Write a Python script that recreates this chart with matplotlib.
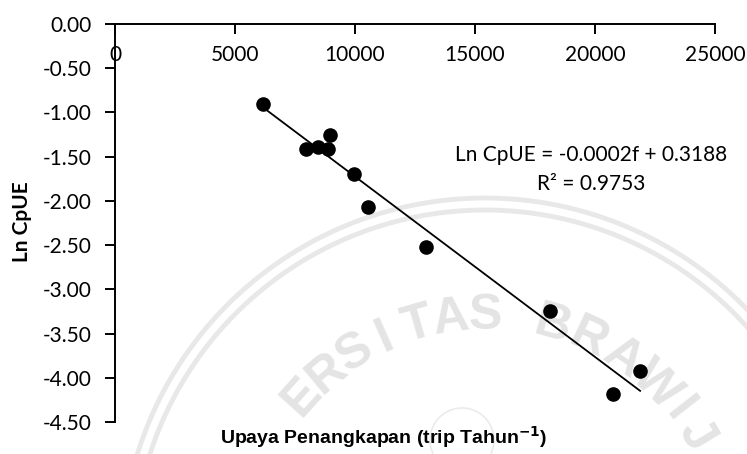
import numpy as np
import matplotlib.pyplot as plt

# fishing effort (trip/year) vs ln CpUE
effort = [6180, 7950, 8470, 8890, 8960, 9960, 10540, 12960, 18140, 21880, 20760]
ln_cpue = [-0.905, -1.414, -1.388, -1.414, -1.256, -1.697, -2.067, -2.519, -3.247, -3.92, -4.18]

x_ticks = [0, 5000, 10000, 15000, 20000, 25000]
y_ticks = [0.0, -0.5, -1.0, -1.5, -2.0, -2.5, -3.0, -3.5, -4.0, -4.5]

eq_text = "Ln CpUE = -0.0002f + 0.3188"
r2_text = "R² = 0.9753"

W, H = 747, 454
fig = plt.figure(figsize=(W / 100, H / 100), dpi=100)
ax = fig.add_axes([115 / W, 1 - 422 / H, 600 / W, 398 / H])
ax.set_zorder(2)
ax.patch.set_alpha(0)

# faint watermark behind the chart (pixel coords from the top-left corner)
wm_chars = list("ERSITASBRAWIJ")
wm_angles = [138, 130, 122, 114, 106, 98, 90, 74, 65, 56, 46, 38, 31]
cx, cy = 485, 562
for ch, a in zip(wm_chars, wm_angles):
    px = cx + 246 * np.cos(np.radians(a))
    py = cy - 246 * np.sin(np.radians(a))
    fig.text(px / W, 1 - py / H, ch, fontsize=36, color="#e4e4e4",
             family="Liberation Sans", fontweight="bold",
             ha="center", va="center", rotation=a - 90, zorder=-5)
t = np.linspace(0, 2 * np.pi, 500)
for r in (352, 364):
    xs = (cx + r * np.cos(t)) / W
    ys = 1 - (cy - r * np.sin(t)) / H
    fig.add_artist(plt.Line2D(xs, ys, color="#e8e8e8", lw=3.5, zorder=-5))
xs = (462 + 32 * np.cos(t)) / W
ys = 1 - (440 + 32 * np.sin(t)) / H
fig.add_artist(plt.Line2D(xs, ys, color="#ebebeb", lw=1.2, zorder=-5))

ex = np.array(effort, dtype=float)
ey = np.array(ln_cpue)
slope, icpt = np.polyfit(ex, ey, 1)
xl = np.array([ex.min(), ex.max()])
ax.plot(xl, slope * xl + icpt, color="black", lw=1.3, zorder=2)
ax.scatter(ex, ey, s=90, color="black", zorder=3)

ax.set_xlim(0, 25000)
ax.set_ylim(-4.5, 0)
ax.set_xticks(x_ticks)
ax.set_yticks(y_ticks)
ax.set_yticklabels([f"{v:.2f}" if v != 0 else "0.00" for v in y_ticks])

for s in ("right", "top"):
    ax.spines[s].set_visible(False)
ax.spines["bottom"].set_position(("data", 0))
ax.spines["left"].set_linewidth(1.4)
ax.spines["bottom"].set_linewidth(1.4)
ax.tick_params(axis="both", direction="out", length=7, width=1.4,
               labelsize=15, colors="black")
ax.tick_params(axis="x", pad=8)
ax.tick_params(axis="y", pad=10)
for lbl in ax.get_xticklabels() + ax.get_yticklabels():
    lbl.set_family("Lato")

ax.text(591 / W, 1 - 155 / H, eq_text, transform=fig.transFigure,
        ha="center", va="center", fontsize=15, family="Lato")
ax.text(591 / W, 1 - 184 / H, r2_text, transform=fig.transFigure,
        ha="center", va="center", fontsize=15, family="Lato")

fig.text(22 / W, 1 - 222 / H, "Ln CpUE", rotation=90, ha="center", va="center",
         fontsize=15, fontweight="bold", family="Lato")
fig.text(384 / W, 1 - 437 / H, "Upaya Penangkapan (trip Tahun$^{\\mathbf{-1}}$)",
         ha="center", va="center", fontsize=14, fontweight="bold",
         family="Liberation Sans")

fig.savefig("out.png", dpi=100)
